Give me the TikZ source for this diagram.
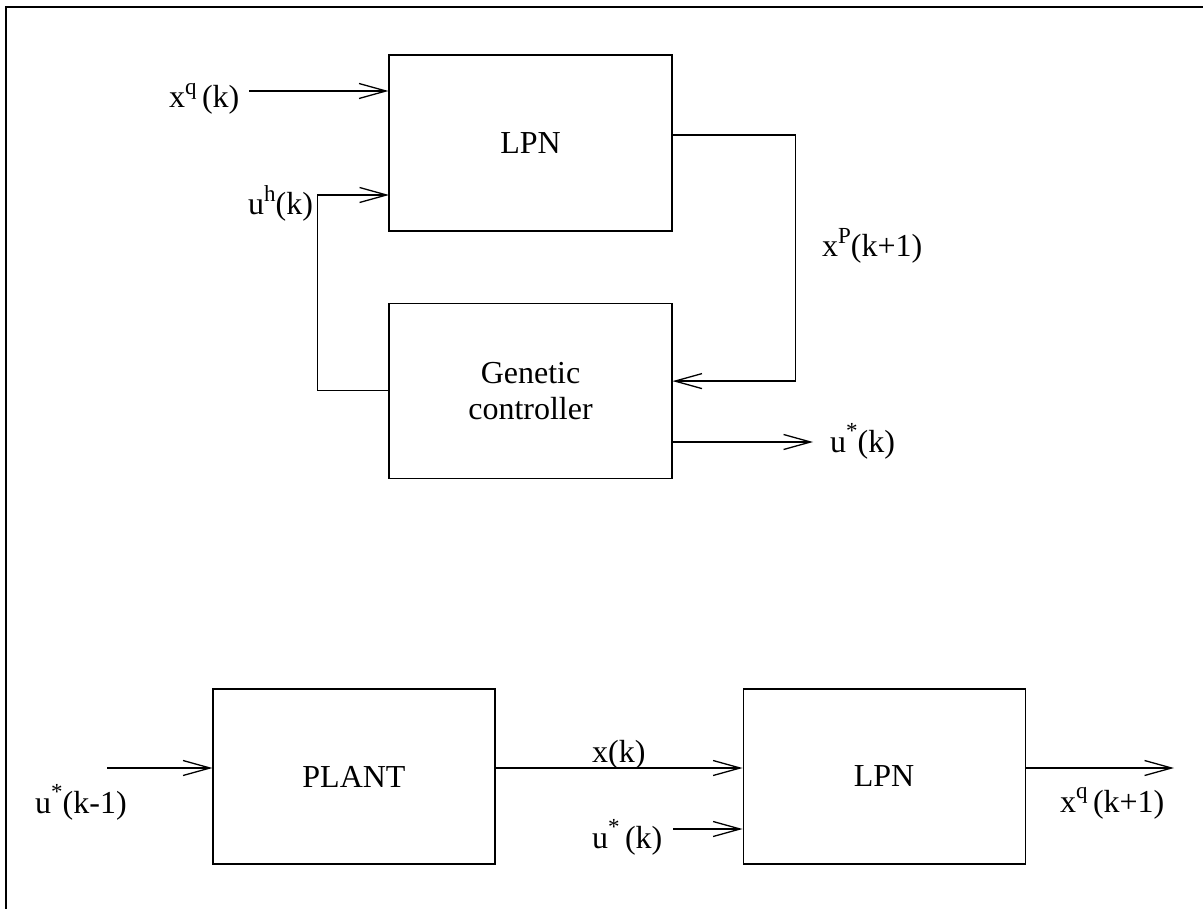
\documentclass[tikz,border=0pt]{standalone}
\usepackage{fontspec}
\setmainfont{Liberation Serif}
\usetikzlibrary{positioning,arrows.meta}
\newcommand{\upsc}[1]{\raisebox{0.43em}{\fontsize{23}{23}\selectfont #1}}

\begin{document}
\begin{tikzpicture}[x=1pt, y=-1pt, font=\fontsize{32}{36}\selectfont, align=center]
  \tikzstyle{block} = [rectangle, draw, line width=1.1pt, minimum width=283pt, minimum height=175pt, inner sep=0pt]
  \tikzstyle{arrow} = [-{Straight Barb[length=27pt, width=15pt, line width=1.3pt]}, line width=1.3pt]
  \tikzstyle{sig} = [inner sep=0pt, anchor=base west]

  \useasboundingbox (0,0) rectangle (1203,909);
  \draw[line width=2.5pt] (6,909) -- (6,7) -- (1203,7);

  % upper loop
  \node[block, minimum height=176pt] (lpn) at (530.5,143) {LPN};
  \node[block, below=71pt of lpn] (gc) {Genetic\\controller};

  \node[sig] (xq) at (169,108) {x\upsc{q}\,(k)};
  \node[sig] (uh) at (248,215) {u\upsc{h}(k)};
  \node[sig] (xp) at (822,257) {x\upsc{P}(k+1)};
  \node[sig] (us) at (830,452) {u\upsc{*}(k)};

  \coordinate (xqin) at (249,91);
  \coordinate (uhin) at (389,195);
  \coordinate (usout) at (813,442);

  \draw[arrow] (xqin) -- (xqin -| lpn.west);
  \draw[arrow] (gc.west) -- ++(-71,0) |- (uhin);
  \draw[arrow] ([yshift=8pt]lpn.east) -- ++(123,0) |- ([yshift=9.5pt]gc.east);
  \draw[arrow] (usout -| gc.east) -- (usout);

  % lower chain
  \node[block, minimum width=282pt] (plant) at (354,776.5) {PLANT};
  \node[block, minimum width=282pt, right=247pt of plant] (lpnb) {LPN};

  \node[sig] (ukm) at (35,813) {u\upsc{*}(k-1)};
  \node[sig] (xk) at (592,762) {x(k)};
  \node[sig] (ubk) at (592,848) {u\upsc{*}\,(k)};
  \node[sig] (xq1) at (1060,812) {x\upsc{q}\,(k+1)};

  \coordinate (uin) at (107,768);
  \coordinate (ukin) at (673,829);
  \coordinate (xqout) at (1174,768);

  \draw[arrow] (uin) -- (uin -| plant.west);
  \draw[arrow] ([yshift=8.5pt]plant.east) -- ([yshift=8.5pt]lpnb.west);
  \draw[arrow] (ukin) -- (ukin -| lpnb.west);
  \draw[arrow] (xqout -| lpnb.east) -- (xqout);
\end{tikzpicture}
\end{document}
